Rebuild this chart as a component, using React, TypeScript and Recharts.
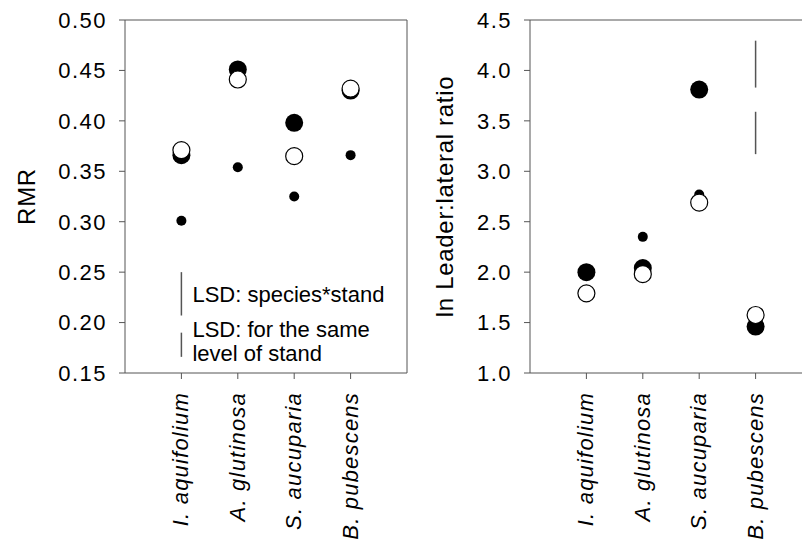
import React from 'react';
import { ScatterChart, Scatter, XAxis, YAxis, ReferenceLine, Label } from 'recharts';

const species = ['I. aquifolium', 'A. glutinosa', 'S. aucuparia', 'B. pubescens'];

// RMR panel
const rmrTicks = [0.15, 0.2, 0.25, 0.3, 0.35, 0.4, 0.45, 0.5];
const rmrSmall = [0.301, 0.354, 0.325, 0.366];
const rmrLarge = [0.366, 0.451, 0.398, 0.43];
const rmrOpen = [0.371, 0.441, 0.365, 0.432];
const rmrLsd = [
  { x: 1, from: 0.25, to: 0.207, text: ['LSD: species*stand'] },
  { x: 1, from: 0.19, to: 0.166, text: ['LSD: for the same', 'level of stand'] },
];

// leader:lateral panel
const llrTicks = [1.0, 1.5, 2.0, 2.5, 3.0, 3.5, 4.0, 4.5];
const llrSmall = [2.0, 2.35, 2.77, 1.5];
const llrLarge = [2.0, 2.04, 3.81, 1.46];
const llrOpen = [1.79, 1.98, 2.69, 1.575];
const llrLsd = [
  { x: 4, from: 4.295, to: 3.83, text: [] as string[] },
  { x: 4, from: 3.59, to: 3.17, text: [] as string[] },
];

const FONT = 'Liberation Sans, Arial, Helvetica, sans-serif';
const AXIS = '#555';

const pts = (vals: number[]) => vals.map((y, i) => ({ x: i + 1, y }));

const dot = (r: number, fill: string, stroke?: string) => (p: any) => (
  <circle cx={p.cx} cy={p.cy} r={r} fill={fill} stroke={stroke || 'none'} strokeWidth={stroke ? 1.2 : 0} />
);

const SpeciesTick = (p: any) => (
  <text
    transform={`translate(${p.x},${p.y + 11}) rotate(-90)`}
    textAnchor="end"
    dy="0.32em"
    fontSize={22}
    fontStyle="italic"
    fontFamily={FONT}
    letterSpacing={1.2}
    fill="#000"
  >
    {species[p.payload.value - 1]}
  </text>
);

const lsdLabel = (lines: string[]) => (p: any) => {
  const vb = p.viewBox;
  if (!vb || !lines.length) return null;
  const cy = vb.y + vb.height / 2;
  const first = cy + 8 - (lines.length - 1) * 16;
  return (
    <text x={vb.x + 11} y={first} fontSize={22} fontFamily={FONT} fill="#000">
      {lines.map((t, i) => (
        <tspan key={t} x={vb.x + 11} dy={i === 0 ? 0 : 24}>
          {t}
        </tspan>
      ))}
    </text>
  );
};

const yTitle = (text: string, bx: number) => (p: any) => {
  const vb = p.viewBox;
  const cy = vb.y + vb.height / 2;
  return (
    <text
      transform={`translate(${vb.x + bx},${cy}) rotate(-90)`}
      textAnchor="middle"
      fontSize={24}
      letterSpacing={0.7}
      fontFamily={FONT}
      fill="#000"
    >
      {text}
    </text>
  );
};

interface PanelProps {
  left: number;
  title: string;
  titleX: number;
  ticks: number[];
  digits: number;
  small: number[];
  large: number[];
  open: number[];
  lsd: { x: number; from: number; to: number; text: string[] }[];
}

const Panel = ({ left, title, titleX, ticks, digits, small, large, open, lsd }: PanelProps) => {
  const yMin = ticks[0];
  const yMax = ticks[ticks.length - 1];
  return (
    <div style={{ position: 'absolute', left, top: 0 }}>
      <ScatterChart width={420} height={549} margin={{ top: 20, right: 13, bottom: 0, left: 0 }}>
        <XAxis
          type="number"
          dataKey="x"
          domain={[0, 5]}
          ticks={[1, 2, 3, 4]}
          interval={0}
          height={176}
          tickSize={6}
          stroke={AXIS}
          tick={<SpeciesTick />}
        />
        <YAxis
          type="number"
          dataKey="y"
          domain={[yMin, yMax]}
          ticks={ticks}
          interval={0}
          width={125}
          tickSize={6}
          tickMargin={12}
          stroke={AXIS}
          tickFormatter={(v: number) => v.toFixed(digits)}
          tick={{ fontSize: 22, fill: '#000', fontFamily: FONT, letterSpacing: 1.5 }}
        >
          <Label content={yTitle(title, titleX)} />
        </YAxis>
        <ReferenceLine y={yMax} stroke={AXIS} />
        <ReferenceLine x={5} stroke={AXIS} />
        {lsd.map((s, i) => (
          <ReferenceLine
            key={i}
            segment={[{ x: s.x, y: s.from }, { x: s.x, y: s.to }]}
            stroke={AXIS}
            strokeWidth={1.5}
            label={lsdLabel(s.text)}
          />
        ))}
        <Scatter data={pts(small)} shape={dot(5, '#000')} isAnimationActive={false} />
        <Scatter data={pts(large)} shape={dot(9, '#000')} isAnimationActive={false} />
        <Scatter data={pts(open)} shape={dot(8.5, '#fff', '#000')} isAnimationActive={false} />
      </ScatterChart>
    </div>
  );
};

export default function App() {
  return (
    <div style={{ position: 'fixed', left: 0, top: 0, width: 802, height: 549, overflow: 'hidden', background: '#fff' }}>
      <Panel
        left={0}
        title="RMR"
        titleX={35}
        ticks={rmrTicks}
        digits={2}
        small={rmrSmall}
        large={rmrLarge}
        open={rmrOpen}
        lsd={rmrLsd}
      />
      <Panel
        left={405}
        title="ln Leader:lateral ratio"
        titleX={48}
        ticks={llrTicks}
        digits={1}
        small={llrSmall}
        large={llrLarge}
        open={llrOpen}
        lsd={llrLsd}
      />
    </div>
  );
}
